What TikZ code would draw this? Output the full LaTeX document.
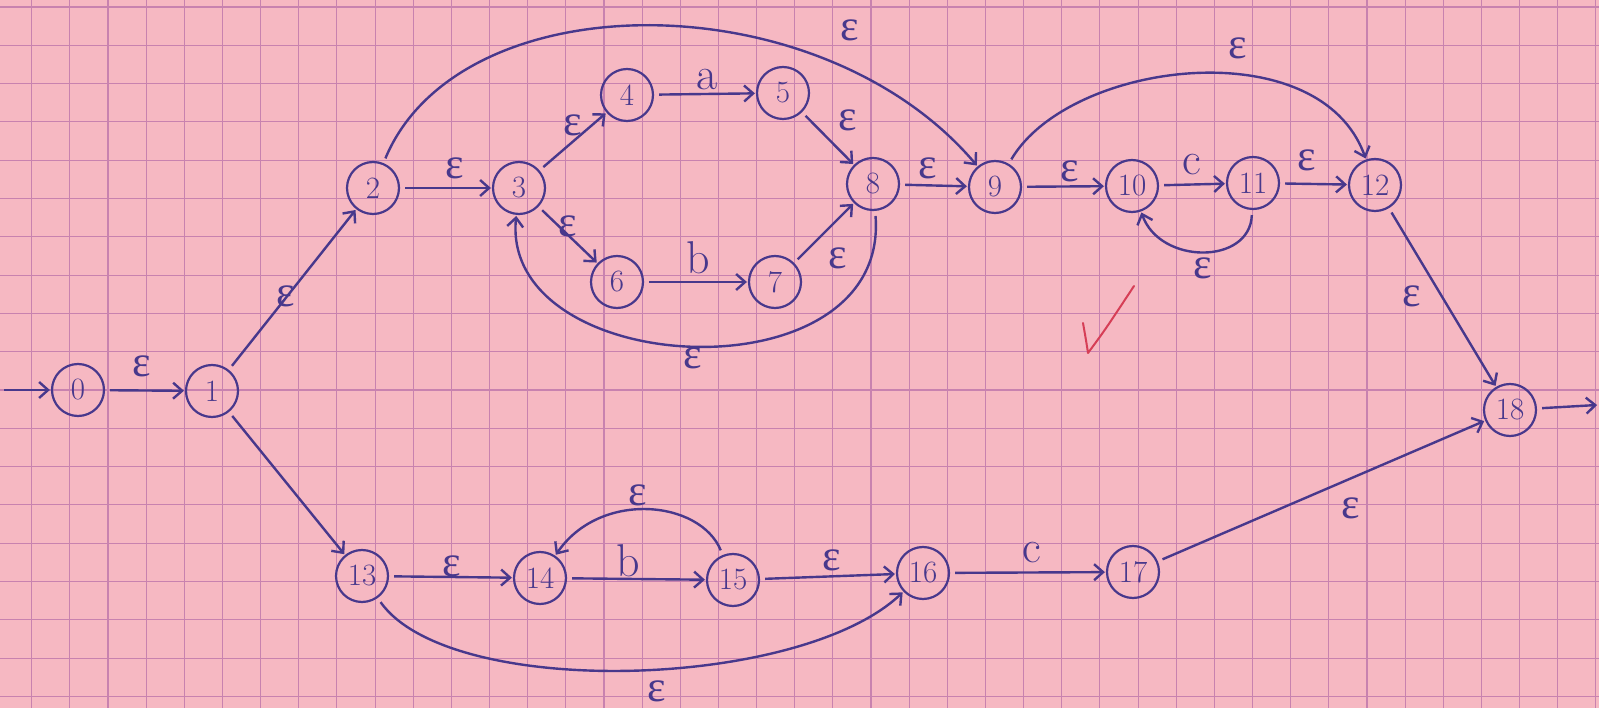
\documentclass[tikz,border=0pt]{standalone}
\usepackage{fontspec}
\newfontfamily\epsfont{Liberation Serif}
\usetikzlibrary{arrows.meta}
\definecolor{paper}{RGB}{246,184,194}
\definecolor{gridc}{RGB}{200,130,175}
\definecolor{ink}{RGB}{72,56,140}
\definecolor{redink}{RGB}{214,62,86}
\newcommand{\eps}{{\epsfont ε}}
\begin{document}
\begin{tikzpicture}[x=1pt,y=-1pt,
  state/.style={circle,draw=ink,line width=2.2pt,minimum size=52pt,inner sep=0pt,text=ink,font=\fontsize{31}{33}\selectfont},
  lab/.style={text=ink,font=\fontsize{46}{48}\selectfont,inner sep=0pt},
  elab/.style={text=ink,font=\fontsize{44}{46}\selectfont,inner sep=0pt},
  edge/.style={draw=ink,line width=2.4pt,-{Straight Barb[length=9pt,width=16pt]},shorten <=5pt,shorten >=1pt},
  gridline/.style={draw=gridc,line width=1.1pt}]
\useasboundingbox (0,0) rectangle (1599,708);
\fill[paper] (0,0) rectangle (1599,708);
\foreach \i in {0,...,41} \draw[gridline] ({31.7+\i*38.15},0) -- ({31.7+\i*38.15},708);
\foreach \j in {0,...,18} \draw[gridline] (0,{7+\j*38.3}) -- (1599,{7+\j*38.3});
% states
\node[state] (n0) at (78,390) {0};
\node[state] (n1) at (212,391) {1};
\node[state] (n2) at (373,188) {2};
\node[state] (n3) at (519,188) {3};
\node[state] (n4) at (627,95) {4};
\node[state] (n5) at (783,93) {5};
\node[state] (n6) at (617,282) {6};
\node[state] (n7) at (775,282) {7};
\node[state] (n8) at (873,184) {8};
\node[state] (n9) at (995,187) {9};
\node[state] (n10) at (1132,186) {10};
\node[state] (n11) at (1253,183) {11};
\node[state] (n12) at (1375,185) {12};
\node[state] (n13) at (362,576) {13};
\node[state] (n14) at (540,578) {14};
\node[state] (n15) at (733,580) {15};
\node[state] (n16) at (923,573) {16};
\node[state] (n17) at (1133,572) {17};
\node[state] (n18) at (1510,410) {18};
\coordinate (start) at (4,390);
\coordinate (finish) at (1597,405);
% straight edges
\draw[edge,shorten <=0pt] (start) -- (n0);
\draw[edge] (n0) -- (n1);
\draw[edge] (n1) -- (n2);
\draw[edge] (n1) -- (n13);
\draw[edge] (n2) -- (n3);
\draw[edge] (n3) -- (n4);
\draw[edge] (n3) -- (n6);
\draw[edge] (n4) -- (n5);
\draw[edge] (n5) -- (n8);
\draw[edge] (n6) -- (n7);
\draw[edge] (n7) -- (n8);
\draw[edge] (n8) -- (n9);
\draw[edge] (n9) -- (n10);
\draw[edge] (n10) -- (n11);
\draw[edge] (n11) -- (n12);
\draw[edge] (n12) -- (n18);
\draw[edge] (n13) -- (n14);
\draw[edge] (n14) -- (n15);
\draw[edge] (n15) -- (n16);
\draw[edge] (n16) -- (n17);
\draw[edge] (n17) -- (n18);
\draw[edge,shorten >=0pt] (n18) -- (finish);
% curved edges
\draw[edge] (n2) .. controls (460,-20) and (820,-20) .. (n9);
\draw[edge] (n9) .. controls (1070,60) and (1320,30) .. (n12);
\draw[edge] (n8) .. controls (890,400) and (500,380) .. (n3);
\draw[edge] (n11) .. controls (1250,265) and (1160,265) .. (n10);
\draw[edge] (n15) .. controls (700,500) and (600,490) .. (n14);
\draw[edge] (n13) .. controls (450,700) and (800,690) .. (n16);
% labels
\node[elab] (l01) at (142,366) {\eps};
\node[elab] (l12) at (286,296) {\eps};
\node[elab] (l23) at (455,168) {\eps};
\node[elab] (l34) at (573,125) {\eps};
\node[elab] (l36) at (568,226) {\eps};
\node[lab] (l45) at (707,80) {a};
\node[elab] (l58) at (848,120) {\eps};
\node[lab] (l67) at (698,258) {b};
\node[elab] (l78) at (838,258) {\eps};
\node[elab] (l83) at (693,358) {\eps};
\node[elab] (l29) at (850,30) {\eps};
\node[elab] (l89) at (928,168) {\eps};
\node[elab] (l912) at (1238,48) {\eps};
\node[elab] (l910) at (1070,171) {\eps};
\node[lab] (l1011) at (1192,165) {c};
\node[elab] (l1112) at (1307,160) {\eps};
\node[elab] (l1110) at (1203,268) {\eps};
\node[elab] (l1218) at (1412,296) {\eps};
\node[elab] (l1314) at (452,566) {\eps};
\node[lab] (l1415) at (628,561) {b};
\node[elab] (l1514) at (638,495) {\eps};
\node[elab] (l1516) at (832,560) {\eps};
\node[elab] (l1316) at (657,691) {\eps};
\node[lab] (l1617) at (1032,553) {c};
\node[elab] (l1718) at (1351,508) {\eps};
% check mark
\draw[redink,line width=2pt,line cap=round,line join=round] (1083,323) .. controls (1086,340) .. (1088,353) .. controls (1105,330) .. (1134,286);
\end{tikzpicture}
\end{document}
